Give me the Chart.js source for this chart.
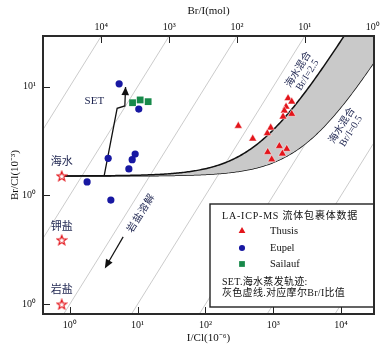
<!DOCTYPE html>
<html>
<head>
<meta charset="utf-8">
<script src="https://cdn.jsdelivr.net/npm/chart.js@4.4.1/dist/chart.umd.min.js"></script>
<style>
  body { margin: 0; background: #fff; }
</style>
</head>
<body>
<canvas id="chart" width="389" height="349"></canvas>
<script>
// visible window, log10 units
var xMinLog = -0.395, xMaxLog = 4.485;
var yMinLog = -1.09, yMaxLog = 1.465;

// LA-ICP-MS fluid inclusion data: I/Cl (10^-6) and Br/Cl (10^-3)
var thusisICl = [1652, 1872, 1543, 1456, 1872, 1393, 305, 917, 817, 498, 1228, 1580, 828, 1361, 948];
var thusisBrCl = [7.81, 7.27, 6.53, 6.01, 5.60, 5.29, 4.35, 4.19, 3.72, 3.32, 2.84, 2.67, 2.50, 2.42, 2.14];
var eupelICl = [5.34, 10.4, 3.68, 9.20, 8.31, 7.43, 1.80, 4.03];
var eupelBrCl = [10.6, 6.22, 2.19, 2.40, 2.13, 1.75, 1.33, 0.905];
var sailaufICl = [8.42, 10.9, 14.3];
var sailaufBrCl = [7.11, 7.54, 7.27];

// seawater evaporation trajectory (SET)
var setICl = [3.21, 4.99, 6.48, 6.64];
var setBrCl = [1.51, 6.32, 6.64, 9.9];

// reference compositions: seawater, potash salt, rock salt
var refNames = ['海水', '钾盐', '岩盐'];
var refICl = [0.76, 0.76, 0.76];
var refBrCl = [1.51, 0.39, 0.10];

// seawater mixing curves, Br/I of the added component
var mixRatios = [2.5, 0.5];

// gray guide lines: Br/Cl = 10^n * I/Cl
var guideExps = [1, 0, -1, -2, -3, -4, -5];

var xTickVals = [1, 10, 100, 1000, 10000];
var xTickLabels = ['10⁰', '10¹', '10²', '10³', '10⁴'];
var yTickVals = [0.1, 1, 10];
var yTickLabels = ['10⁰', '10⁰', '10¹'];
var topTickLabels = ['10⁴', '10³', '10²', '10¹', '10⁰'];

var SERIF = '"Liberation Serif", "Noto Sans CJK SC", serif';
var textColor = '#1e2550';

function pts(xs, ys) {
    return xs.map(function (x, i) { return {x: x, y: ys[i]}; });
}

function mixCurve(ratio) {
    var x0 = refICl[0], y0 = refBrCl[0];
    var out = [];
    for (var lx = Math.log10(x0); lx <= 4.7; lx += 0.02) {
        var x = Math.pow(10, lx);
        out.push({x: x, y: y0 + ratio * 1e-3 * (x - x0)});
    }
    return out;
}

function makeStar(size, color) {
    var c = document.createElement('canvas');
    c.width = size; c.height = size;
    var g = c.getContext('2d');
    var cx = size / 2, cy = size / 2 + 0.5, R = size / 2 - 1, r = R * 0.42;
    g.beginPath();
    for (var i = 0; i < 10; i++) {
        var ang = -Math.PI / 2 + i * Math.PI / 5;
        var rad = i % 2 ? r : R;
        g.lineTo(cx + rad * Math.cos(ang), cy + rad * Math.sin(ang));
    }
    g.closePath();
    g.fillStyle = '#fff';
    g.fill();
    g.strokeStyle = color;
    g.lineWidth = 1.2;
    g.stroke();
    return c;
}

var datasets = [];

guideExps.forEach(function (n) {
    var k = Math.pow(10, n);
    datasets.push({
        data: [{x: 0.01, y: k * 0.01}, {x: 1e6, y: k * 1e6}],
        showLine: true, borderColor: '#b4b4b4', borderWidth: 0.7,
        pointRadius: 0, order: 10
    });
});

// band between the two mixing curves
datasets.push({
    data: mixCurve(mixRatios[0]), showLine: true, fill: '+1',
    backgroundColor: '#c9c9c9', borderColor: '#111', borderWidth: 1.5,
    pointRadius: 0, order: 5
});
datasets.push({
    data: mixCurve(mixRatios[1]), showLine: true, fill: false,
    borderColor: '#111', borderWidth: 1.5, pointRadius: 0, order: 5
});

datasets.push({
    data: pts(setICl, setBrCl), showLine: true, borderColor: '#111',
    borderWidth: 1.3, pointRadius: 0, order: 4
});

datasets.push({
    label: 'Thusis', data: pts(thusisICl, thusisBrCl), pointStyle: 'triangle',
    pointRadius: 4.6, backgroundColor: '#e3151b', borderColor: '#fff',
    borderWidth: 0.5, order: 2
});
datasets.push({
    label: 'Eupel', data: pts(eupelICl, eupelBrCl), pointStyle: 'circle',
    pointRadius: 3.6, backgroundColor: '#1818a2', borderColor: '#1818a2',
    borderWidth: 0, order: 2
});
datasets.push({
    label: 'Sailauf', data: pts(sailaufICl, sailaufBrCl), pointStyle: 'rect',
    pointRadius: 4.8, backgroundColor: '#17894a', borderColor: '#17894a',
    borderWidth: 0, order: 2
});

datasets.push({
    data: pts(refICl, refBrCl), pointStyle: makeStar(12, '#e3151b'),
    pointRadius: 6, order: 1
});

function arrowHead(ctx, x1, y1, x2, y2, len, half) {
    var a = Math.atan2(y2 - y1, x2 - x1);
    var bx = x2 - len * Math.cos(a), by = y2 - len * Math.sin(a);
    ctx.beginPath();
    ctx.moveTo(x2, y2);
    ctx.lineTo(bx + half * Math.sin(a), by - half * Math.cos(a));
    ctx.lineTo(bx - half * Math.sin(a), by + half * Math.cos(a));
    ctx.closePath();
    ctx.fill();
}

function rotatedText(ctx, lines, x, y, angle, gap) {
    ctx.save();
    ctx.translate(x, y);
    ctx.rotate(angle);
    ctx.textAlign = 'center';
    ctx.textBaseline = 'middle';
    lines.forEach(function (t, i) {
        ctx.fillText(t, 0, (i - (lines.length - 1) / 2) * gap);
    });
    ctx.restore();
}

var decorations = {
    id: 'decorations',
    afterDatasetsDraw: function (chart) {
        var ctx = chart.ctx, a = chart.chartArea;
        var xs = chart.scales.x, ys = chart.scales.y;
        function px(v) { return xs.getPixelForValue(v); }
        function py(v) { return ys.getPixelForValue(v); }
        var diag = Math.atan2(py(10) - py(1), px(10) - px(1));

        ctx.save();

        // SET arrow head
        var n = setICl.length - 1;
        ctx.fillStyle = '#111';
        arrowHead(ctx, px(setICl[n - 1]), py(setBrCl[n - 1]), px(setICl[n]), py(setBrCl[n]), 8, 3.8);

        // rock salt dissolution arrow
        var s1 = [px(6.12), py(0.416)], s2 = [px(3.28), py(0.213)];
        ctx.strokeStyle = '#111';
        ctx.lineWidth = 1.2;
        ctx.beginPath();
        ctx.moveTo(s1[0], s1[1]);
        ctx.lineTo(s2[0] + 4 * Math.cos(Math.atan2(s1[1] - s2[1], s1[0] - s2[0])),
                   s2[1] + 4 * Math.sin(Math.atan2(s1[1] - s2[1], s1[0] - s2[0])));
        ctx.stroke();
        arrowHead(ctx, s1[0], s1[1], s2[0], s2[1], 9, 3.8);

        // annotations
        ctx.fillStyle = textColor;
        ctx.font = '11px ' + SERIF;
        ctx.textAlign = 'center';
        ctx.textBaseline = 'middle';
        ctx.fillText('SET', px(2.30), py(7.43));
        ctx.fillText(refNames[0], px(0.762), py(2.03));
        ctx.fillText(refNames[1], px(0.762), py(0.511));
        ctx.fillText(refNames[2], px(0.762), py(0.136));

        ctx.font = '10px ' + SERIF;
        rotatedText(ctx, ['海水混合', 'Br/I=' + mixRatios[0]], px(2748), py(13.5), diag, 10.5);
        rotatedText(ctx, ['海水混合', 'Br/I=' + mixRatios[1]], px(12050), py(4.12), diag, 10.5);
        ctx.letterSpacing = '1px';
        rotatedText(ctx, ['岩盐溶解'], px(11.4), py(0.687), diag, 0);
        ctx.letterSpacing = '0px';

        // legend box
        var bx = 210, by = 204, bw = a.right - bx, bh = 103;
        ctx.fillStyle = '#fff';
        ctx.fillRect(bx, by, bw, bh);
        ctx.strokeStyle = '#222';
        ctx.lineWidth = 1.4;
        ctx.strokeRect(bx, by, bw, bh);

        ctx.fillStyle = '#111';
        ctx.textAlign = 'left';
        ctx.font = '10px ' + SERIF;
        ctx.letterSpacing = '0.8px';
        ctx.fillText('LA-ICP-MS 流体包裹体数据', 222, 216);
        ctx.letterSpacing = '0.3px';
        ctx.fillText('SET.海水蒸发轨迹:', 222, 282);
        ctx.fillText('灰色虚线.对应摩尔Br/I比值', 222, 293);
        ctx.letterSpacing = '0px';

        var rows = [231, 248, 264];
        ['Thusis', 'Eupel', 'Sailauf'].forEach(function (name, i) {
            var ds = chart.data.datasets.filter(function (d) { return d.label === name; })[0];
            ctx.fillStyle = ds.backgroundColor;
            ctx.strokeStyle = ds.borderColor;
            Chart.helpers.drawPoint(ctx, {
                pointStyle: ds.pointStyle, radius: ds.pointRadius * 0.85,
                rotation: 0, borderWidth: 0
            }, 242, rows[i]);
            ctx.fillStyle = '#111';
            ctx.font = '10.5px ' + SERIF;
            ctx.fillText(name, 270, rows[i]);
        });

        ctx.restore();
    },
    afterDraw: function (chart) {
        var ctx = chart.ctx, a = chart.chartArea;
        ctx.save();
        ctx.strokeStyle = '#222';
        ctx.lineWidth = 1;
        // inward tick marks
        chart.scales.x.ticks.forEach(function (t) {
            var x = Math.round(chart.scales.x.getPixelForValue(t.value)) + 0.5;
            ctx.beginPath(); ctx.moveTo(x, a.bottom); ctx.lineTo(x, a.bottom - 7); ctx.stroke();
        });
        chart.scales.x2.ticks.forEach(function (t) {
            var x = Math.round(chart.scales.x2.getPixelForValue(t.value)) + 0.5;
            ctx.beginPath(); ctx.moveTo(x, a.top); ctx.lineTo(x, a.top + 7); ctx.stroke();
        });
        chart.scales.y.ticks.forEach(function (t) {
            var y = Math.round(chart.scales.y.getPixelForValue(t.value)) + 0.5;
            ctx.beginPath(); ctx.moveTo(a.left, y); ctx.lineTo(a.left + 7, y); ctx.stroke();
        });
        // frame
        ctx.strokeStyle = '#2a2a2a';
        ctx.lineWidth = 2;
        ctx.strokeRect(a.left, a.top, a.right - a.left, a.bottom - a.top);
        ctx.restore();
    }
};

var tickFont = {family: SERIF, size: 10};
var titleFont = {family: SERIF, size: 11};

new Chart(document.getElementById('chart'), {
    type: 'scatter',
    data: {datasets: datasets},
    plugins: [decorations],
    options: {
        responsive: false,
        devicePixelRatio: 1,
        animation: false,
        layout: {padding: {left: 0, right: 15, top: 0, bottom: 0}},
        plugins: {legend: {display: false}, tooltip: {enabled: false}},
        scales: {
            x: {
                type: 'logarithmic', position: 'bottom',
                min: Math.pow(10, xMinLog), max: Math.pow(10, xMaxLog),
                grid: {display: false, drawTicks: false}, border: {display: false},
                afterBuildTicks: function (s) { s.ticks = xTickVals.map(function (v) { return {value: v}; }); },
                afterFit: function (s) { s.height = 35; },
                ticks: {
                    autoSkip: false, maxRotation: 0, padding: 5, color: '#111', font: tickFont,
                    callback: function (v, i) { return xTickLabels[i]; }
                },
                title: {display: true, text: 'I/Cl(10⁻⁶)', color: '#111', font: titleFont, padding: {top: 0, bottom: 4}}
            },
            x2: {
                type: 'logarithmic', position: 'top', axis: 'x',
                min: Math.pow(10, xMinLog), max: Math.pow(10, xMaxLog),
                grid: {display: false, drawTicks: false}, border: {display: false},
                afterBuildTicks: function (s) {
                    s.ticks = guideExps.slice(0, topTickLabels.length).map(function (n) {
                        return {value: Math.pow(10, yMaxLog - n)};
                    });
                },
                afterFit: function (s) { s.height = 36; },
                ticks: {
                    autoSkip: false, maxRotation: 0, padding: 3, color: '#111', font: tickFont,
                    callback: function (v, i) { return topTickLabels[i]; }
                },
                title: {display: true, text: 'Br/I(mol)', color: '#111', font: titleFont, padding: {top: 5, bottom: 0}}
            },
            y: {
                type: 'logarithmic', position: 'left',
                min: Math.pow(10, yMinLog), max: Math.pow(10, yMaxLog),
                grid: {display: false, drawTicks: false}, border: {display: false},
                afterBuildTicks: function (s) { s.ticks = yTickVals.map(function (v) { return {value: v}; }); },
                afterFit: function (s) { s.width = 43; },
                ticks: {
                    autoSkip: false, padding: 7, color: '#111', font: tickFont,
                    callback: function (v, i) { return yTickLabels[i]; }
                },
                title: {display: true, text: 'Br/Cl(10⁻³)', color: '#111', font: titleFont, padding: {top: 9, bottom: 0}}
            }
        }
    }
});
</script>
</body>
</html>
